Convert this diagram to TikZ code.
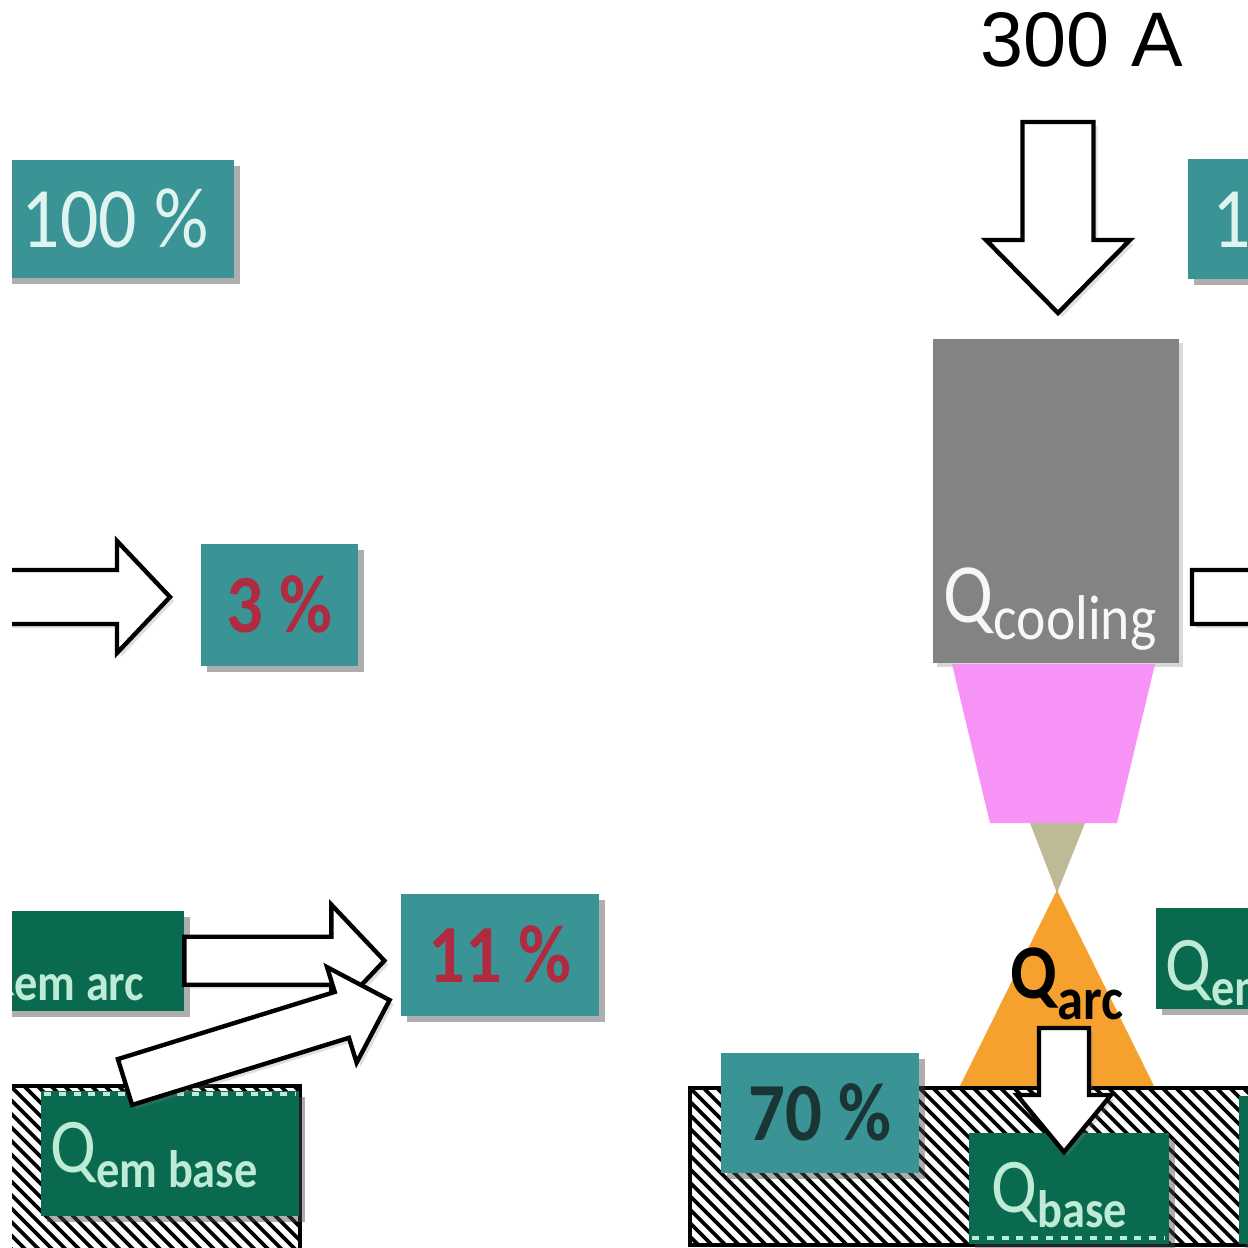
\documentclass[tikz,border=0pt]{standalone}
\usepackage{fontspec}
\usetikzlibrary{shadows}
\newfontfamily\lblfont[FakeStretch=0.88]{Carlito}
\newfontfamily\ampfont{Liberation Sans}

\definecolor{tealc}{HTML}{3A9395}
\definecolor{tealtext}{HTML}{DFF4F0}
\definecolor{greenc}{HTML}{0A6A4F}
\definecolor{mintc}{HTML}{BDEBD6}
\definecolor{redc}{HTML}{B02A40}
\definecolor{darkc}{HTML}{1B3434}
\definecolor{grayc}{HTML}{838383}
\definecolor{pinkc}{HTML}{F793F6}
\definecolor{khakic}{HTML}{BEBA95}
\definecolor{orangec}{HTML}{F6A02E}

% Q with a lowered subscript: #1 drop, #2 subscript size, #3 subscript text
\newcommand{\Qsub}[3]{Q\raisebox{-#1}{\fontsize{#2}{#2}\selectfont #3}}

% block arrow: #1 tail point, #2 angle, #3 length, #4 shaft half width,
% #5 head half width, #6 head length
\newcommand{\blockarrow}[6]{%
  \begin{scope}[shift={#1},rotate=#2]
    \draw[flowarrow] (0,-#4) -- (#3-#6,-#4) -- (#3-#6,-#5) -- (#3,0)
      -- (#3-#6,#5) -- (#3-#6,#4) -- (0,#4) -- cycle;
  \end{scope}}

\tikzset{
  boxshadow/.style={drop shadow={shadow xshift=0.6mm, shadow yshift=-0.6mm, opacity=0.45, fill=black!70}},
  pctbox/.style={fill=tealc, inner sep=0pt, anchor=north west, boxshadow},
  heatbox/.style={fill=greenc, inner sep=0pt, anchor=north west, boxshadow},
  pctwhite/.style={text=tealtext, font=\lblfont\fontsize{24.5}{25}\selectfont},
  pctred/.style={text=redc, font=\lblfont\bfseries\fontsize{23.5}{24}\selectfont},
  pctdark/.style={text=darkc, font=\lblfont\bfseries\fontsize{23.5}{24}\selectfont},
  qlabel/.style={anchor=base west, inner sep=0pt, text=mintc, font=\lblfont\fontsize{22}{22}\selectfont},
  flowarrow/.style={draw=black, fill=white, line width=1.25pt, line join=miter,
    drop shadow={shadow xshift=0.4mm, shadow yshift=-0.4mm, opacity=0.25}},
  hatchline/.style={line width=1.05pt, black},
  hatchborder/.style={line width=1.2pt, black},
}

\begin{document}
\begin{tikzpicture}[x=0.1mm,y=-0.1mm]
\useasboundingbox (0,0) rectangle (1248,1248);
\fill[white] (0,0) rectangle (1248,1248);

\begin{scope}
\clip (12,0) rectangle (1248,1248);

% ---------- left column: energy shares ----------
\node[pctbox, pctwhite, minimum width=23.7mm, minimum height=11.8mm] (p100l) at (-4,159) {100 \%};

\coordinate (radin) at (-10,597);
\blockarrow{(radin)}{0}{180}{27}{56}{53}
\node[pctbox, pctred, minimum width=15.7mm, minimum height=12.2mm] (p3) at (200,543) {3 \%};

% hatched base plate (left)
\begin{scope}
  \clip (-10,1086) rectangle (300,1260);
  \foreach \k in {0,...,40}
    \draw[hatchline] ({-200+\k*13.5},1078) -- ++(200,200);
\end{scope}
\draw[hatchborder] (-10,1086) -- (300,1086) -- (300,1260);
\node[heatbox, minimum width=25.8mm, minimum height=12.5mm] (embase) at (40,1090) {};
\draw[mintc, line width=0.9pt, dash pattern=on 2pt off 2.2pt] (44,1094) -- (296,1094);
\node[qlabel] (qembase) at (50,1172) {\Qsub{4.5pt}{15}{\bfseries em base}};

\node[heatbox, minimum width=20mm, minimum height=10mm] (emarcl) at (-17,910) {};
\node[qlabel] (qemarcl) at (-32,985) {\Qsub{4.3pt}{15}{\bfseries em arc}};

\node[pctbox, pctred, minimum width=19.8mm, minimum height=12.2mm] (p11) at (400,893) {11 \%};

\blockarrow{(emarcl.east)}{0}{200}{24}{56}{53}
\coordinate (embasetail) at (125,1082);
\blockarrow{(embasetail)}{17.2}{277}{24}{50}{50}

% ---------- right column: torch, arc and work piece ----------
\node[anchor=base, inner sep=0pt, font=\ampfont\fontsize{22}{22}\selectfont] (amp) at (1082,66) {300 A};
\coordinate (ampin) at (1058,122);
\blockarrow{(ampin)}{-90}{191}{35.5}{72}{73}

\node[pctbox, pctwhite, minimum width=23.7mm, minimum height=12mm] (p100r) at (1187,158) {100 \%};

\node[fill=grayc, anchor=north west, inner sep=0pt, minimum width=24.6mm, minimum height=32.4mm,
  drop shadow={shadow xshift=0.4mm, shadow yshift=-0.4mm, opacity=0.3}] (torch) at (932,338) {};
\node[qlabel, text=white!94!gray, font=\lblfont\fontsize{24}{24}\selectfont] (qcool) at (943,622)
  {\Qsub{5pt}{18}{cooling}};

\coordinate (coolout) at (1192,597);
\blockarrow{(coolout)}{0}{200}{27}{56}{53}

% electrode, tip and arc
\fill[pinkc] (952,664) -- (1155,664) -- (1117,823) -- (990,823) -- cycle;
\fill[khakic] (1030,823) -- (1085,823) -- (1057,893) -- cycle;
\fill[orangec] (1057,890) -- (1156,1090) -- (958,1090) -- cycle;

% hatched work piece (right)
\begin{scope}
  \clip (690,1088) rectangle (1300,1245);
  \foreach \k in {0,...,60}
    \draw[hatchline] ({520+\k*13.5},1080) -- ++(200,200);
\end{scope}
\draw[hatchborder] (1300,1088) -- (690,1088) -- (690,1245) -- (1300,1245);

\node[pctbox, pctdark, minimum width=19.8mm, minimum height=12mm] (p70) at (720,1052) {70 \%};

\node[heatbox, minimum width=20mm, minimum height=11.1mm] (base) at (968,1132) {};
\draw[mintc, line width=0.9pt, dash pattern=on 2pt off 2.2pt] (972,1238) -- (1164,1238);
\node[qlabel] (qbase) at (991,1212) {\Qsub{4.3pt}{15}{\bfseries base}};
\node[heatbox, minimum width=6mm, minimum height=14.8mm] (embaser) at (1238,1095) {};

\node[qlabel, text=black, font=\lblfont\bfseries\fontsize{22}{22}\selectfont] (qarc) at (1010,998)
  {\Qsub{6pt}{17}{arc}};
\coordinate (arcin) at (1064,1028);
\blockarrow{(arcin)}{-90}{124}{25}{47}{57}

\node[heatbox, minimum width=14.5mm, minimum height=10.1mm] (emarcr) at (1155,907) {};
\node[qlabel] (qemarcr) at (1165,990) {\Qsub{4.3pt}{15}{\bfseries em arc}};

\end{scope}
\end{tikzpicture}
\end{document}
